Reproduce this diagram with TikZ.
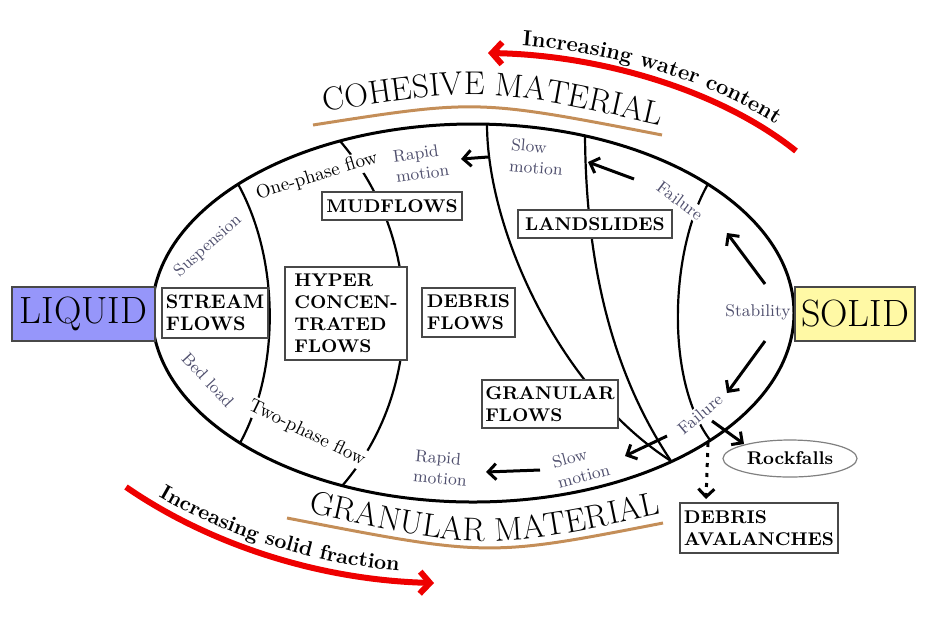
\documentclass[tikz,border=0pt]{standalone}
\usepackage{amsmath}
\usepackage{fontspec}
\usepackage{tikz}
\usetikzlibrary{positioning}
\usetikzlibrary{calc}
\usetikzlibrary{arrows.meta}
\usetikzlibrary{shapes.geometric}
\usetikzlibrary{decorations.text}

\definecolor{liquidblue}{RGB}{150,150,250}
\definecolor{solidyellow}{RGB}{255,249,165}
\definecolor{materialbrown}{RGB}{196,142,88}
\definecolor{trendred}{RGB}{238,0,0}
\definecolor{notegray}{RGB}{80,80,110}
\definecolor{framegray}{RGB}{72,72,72}

\newcommand{\materialfont}{\fontsize{16.5}{16.5}\selectfont}
\newcommand{\trendfont}{\fontsize{11}{11}\selectfont\bfseries}
\newcommand{\trendfontsmall}{\fontsize{10.5}{10.5}\selectfont\bfseries}

\begin{document}
\begin{tikzpicture}[x=0.5pt,y=-0.5pt,
    phasebox/.style={draw=framegray,line width=0.8pt,fill=#1,inner sep=0pt,minimum height=27pt,
                     font=\fontsize{19}{19}\selectfont},
    flowbox/.style={draw=framegray,line width=0.8pt,fill=white,align=left,inner sep=0pt,
                    font=\fontsize{9.2}{11}\selectfont\bfseries},
    note/.style={text=notegray,inner sep=1pt,align=left,font=\fontsize{8.5}{10.5}\selectfont},
    regime/.style={text=black,fill=white,inner sep=1pt,font=\fontsize{9.5}{10}\selectfont},
    boundary/.style={line width=1.1pt},
    rim/.style={line width=1.5pt},
    move/.style={line width=1.5pt,-{Straight Barb[length=4pt,width=8pt]}},
    trend/.style={trendred,line width=3pt,-{Straight Barb[length=5pt,width=11pt]}},
    matline/.style={materialbrown,line width=1.5pt}]
    \useasboundingbox (0,0) rectangle (930,617);

    \coordinate (centre) at (473,313);

    \draw[boundary] (238,184) .. controls (280,260) and (280,370) .. (240,443);
    \draw[boundary] (340,141) .. controls (425,240) and (425,390) .. (342,486);
    \draw[boundary] (487,124) .. controls (487,230) and (560,390) .. (671,461);
    \draw[boundary] (585,136) .. controls (586,260) and (610,370) .. (671,461);
    \draw[boundary] (708,184) .. controls (670,250) and (665,380) .. (710,440);
    \draw[rim] (centre) ellipse [x radius=160.5pt, y radius=94.5pt];

    \draw[matline] (313,125) .. controls (477.5,99.3) .. (662,135);
    \draw[matline] (287,518) .. controls (488,557) .. (663,523);
    \path[decorate, decoration={text along path, text align=center,
          text={|\materialfont|COHESIVE MATERIAL}}] (300,116) .. controls (485,85.5) .. (685,131);
    \path[decorate, decoration={text along path, text align=center,
          text={|\materialfont|GRANULAR MATERIAL}}] (290,508) .. controls (485,552) .. (680,510);

    \coordinate (wetstart) at (796,151);
    \coordinate (wetend) at (488,53);
    \draw[trend] (wetstart) .. controls (720,90) and (600,55) .. (wetend);
    \path[decorate, decoration={text along path, text align=center,
          text={|\trendfont|Increasing water content}}] (490,44) .. controls (600,46) and (726,82) .. (803,143);
    \coordinate (drystart) at (126,487);
    \coordinate (dryend) at (434,583);
    \draw[trend] (drystart) .. controls (210,545) and (320,580) .. (dryend);
    \path[decorate, decoration={text along path, text align=center,
          text={|\trendfontsmall|Increasing solid fraction}}] (127,477) .. controls (212,535) and (322,570) .. (436,573);

    \node[phasebox=liquidblue, minimum width=71.5pt] (liquid) at (83.5,314) {LIQUID};
    \node[phasebox=solidyellow, minimum width=60pt] (solid) at (855,314) {SOLID};

    \node[flowbox, minimum width=53pt, minimum height=25pt, font=\fontsize{9.8}{11}\selectfont\bfseries] (stream) at (215,313) {STREAM\\FLOWS};
    \node[flowbox, minimum width=61pt, minimum height=46.5pt] (hyper) at (346,313.5) {HYPER\\CONCEN-\\TRATED\\FLOWS};
    \node[flowbox, minimum width=70pt, minimum height=14pt] (mud) at (392,206) {MUDFLOWS};
    \node[flowbox, minimum width=46.5pt, minimum height=24.5pt] (debris) at (468.5,312.5) {DEBRIS\\FLOWS};
    \node[flowbox, minimum width=77pt, minimum height=14pt] (land) at (595,224) {LANDSLIDES};
    \node[flowbox, minimum width=68pt, minimum height=24pt] (granular) at (550,404) {GRANULAR\\FLOWS};
    \node[flowbox, minimum width=79pt, minimum height=25pt] (avalanche) at (759,528) {DEBRIS\\AVALANCHES};
    \node[draw=gray, line width=0.6pt, ellipse, inner sep=0pt, minimum width=67pt, minimum height=18.5pt,
          font=\fontsize{9.2}{10}\selectfont\bfseries] (rockfalls) at (790,458.5) {Rockfalls};

    \node[note, rotate=42] (suspension) at (208,246) {Suspension};
    \node[regime, rotate=17] (onephase) at (317,176) {One-phase flow};
    \node[note, rotate=8] (rapidtop) at (421,163) {Rapid\\motion};
    \node[note, rotate=-5] (slowtop) at (537,157) {Slow\\motion};
    \node[note, fill=white, rotate=-37] (failtop) at (680,201) {Failure};
    \node[note] (stability) at (758,312) {Stability};
    \node[note, rotate=-47] (bedload) at (208,380) {Bed load};
    \node[regime, rotate=-26] (twophase) at (307,433) {Two-phase flow};
    \node[note, rotate=-5] (rapidlow) at (441,468) {Rapid\\motion};
    \node[note, rotate=15] (slowlow) at (581,466) {Slow\\motion};
    \node[note, fill=white, rotate=40] (faillow) at (700,414) {Failure};

    \coordinate (m1a) at (488,157);  \coordinate (m1b) at (461,159);
    \coordinate (m2a) at (634,179);  \coordinate (m2b) at (588,162);
    \coordinate (m3a) at (765,284);  \coordinate (m3b) at (727,233);
    \coordinate (m4a) at (765,341);  \coordinate (m4b) at (727,393);
    \coordinate (m5a) at (667,436);  \coordinate (m5b) at (625,456);
    \coordinate (m6a) at (540,470);  \coordinate (m6b) at (486,472);
    \coordinate (m7a) at (712,421);  \coordinate (m7b) at (744,444);
    \coordinate (m8a) at (708,443);  \coordinate (m8b) at (706,499);
    \draw[move] (m1a) -- (m1b);
    \draw[move] (m2a) -- (m2b);
    \draw[move] (m3a) -- (m3b);
    \draw[move] (m4a) -- (m4b);
    \draw[move] (m5a) -- (m5b);
    \draw[move] (m6a) -- (m6b);
    \draw[move] (m7a) -- (m7b);
    \draw[move, dash pattern=on 2pt off 3pt] (m8a) -- (m8b);
\end{tikzpicture}
\end{document}
